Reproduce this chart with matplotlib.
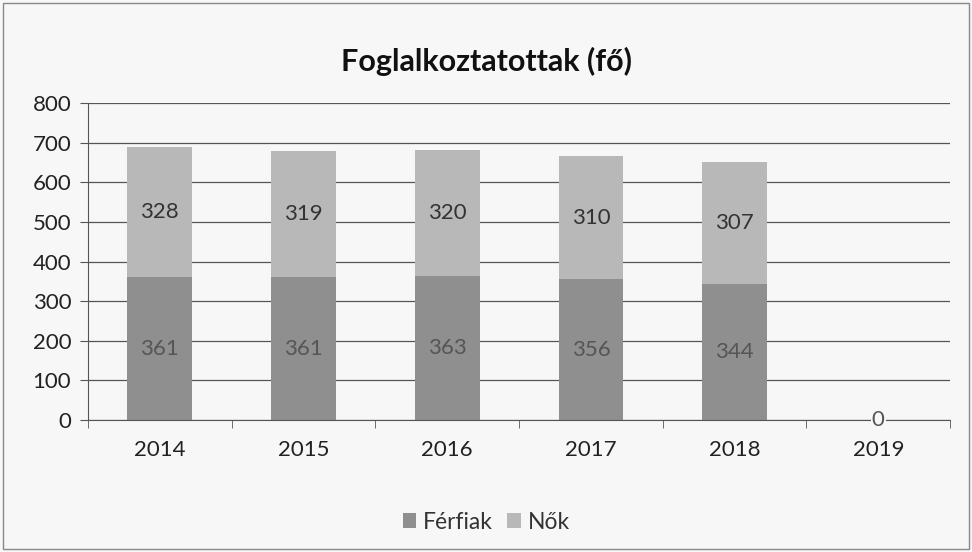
import matplotlib.pyplot as plt
from matplotlib.patches import Rectangle

years = ["2014", "2015", "2016", "2017", "2018", "2019"]
ferfiak = [361, 361, 363, 356, 344, 0]
nok = [328, 319, 320, 310, 307, 0]

plt.rcParams['font.family'] = ['Lato', 'DejaVu Sans']

fig = plt.figure(figsize=(9.72, 5.52), dpi=100, facecolor="#f7f7f7")
ax = fig.add_axes([0.0905, 0.239, 0.887, 0.574])
ax.set_facecolor("#f7f7f7")

x = list(range(len(years)))
b1 = ax.bar(x, ferfiak, width=0.45, color="#8f8f8f", label="Férfiak", zorder=2)
b2 = ax.bar(x, nok, width=0.45, bottom=ferfiak, color="#b8b8b8", label="Nők", zorder=2)

for i in range(len(years)):
    if ferfiak[i] + nok[i] == 0:
        ax.text(x[i], 0, "0", ha="center", va="center", fontsize=16, color="#555555",
                bbox=dict(facecolor="#f7f7f7", edgecolor="none", pad=1), zorder=4)
        continue
    ax.text(x[i], ferfiak[i] / 2, str(ferfiak[i]), ha="center", va="center",
            fontsize=16, color="#555555", zorder=3)
    ax.text(x[i], ferfiak[i] + nok[i] / 2, str(nok[i]), ha="center", va="center",
            fontsize=16, color="#333333", zorder=3)

ax.set_xlim(-0.5, len(years) - 0.5)
ax.set_ylim(0, 800)
ax.set_yticks(range(0, 801, 100))
ax.yaxis.grid(True, color="#555555", linewidth=0.9, zorder=1)
ax.set_xticks(x)
ax.set_xticklabels(years)
ax.set_xticks([i + 0.5 for i in range(-1, len(years))], minor=True)
ax.tick_params(axis="x", which="major", length=0, pad=14, labelsize=16, colors="#222222")
ax.tick_params(axis="x", which="minor", length=6, color="#555555")
ax.tick_params(axis="y", length=6, color="#555555", labelsize=16, colors="#222222", pad=6)
for s in ["top", "right"]:
    ax.spines[s].set_visible(False)
ax.spines["left"].set_color("#555555")
ax.spines["bottom"].set_color("#555555")

fig.text(0.5, 0.888, "Foglalkoztatottak (fő)", ha="center", va="center",
         fontsize=22, fontweight="bold", color="#111111")

fig.legend(handles=[b1, b2], loc="center", bbox_to_anchor=(0.5, 0.054), ncol=2,
           frameon=False, fontsize=16.5, handlelength=0.6, handleheight=0.6,
           handletextpad=0.3, columnspacing=0.6, labelcolor="#333333")

fig.patches.append(Rectangle((0.003, 0.005), 0.994, 0.99, transform=fig.transFigure,
                             fill=False, edgecolor="#888888", linewidth=1))

fig.savefig("out.png", dpi=100, facecolor=fig.get_facecolor())
